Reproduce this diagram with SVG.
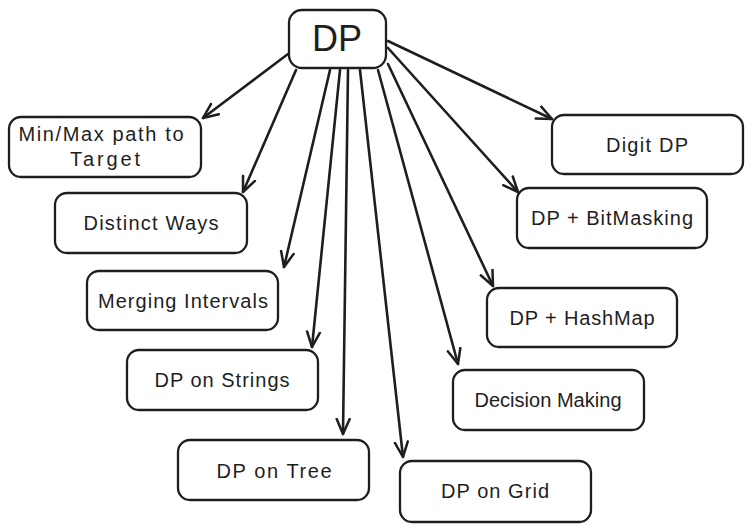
<svg xmlns="http://www.w3.org/2000/svg" width="752" height="531" viewBox="0 0 752 531">
<style>
.box{fill:#fff;stroke:#1e1e1e;stroke-width:2.3}
.t{font-family:"Liberation Sans",Arial,sans-serif;font-size:20px;fill:#1e1e1e;text-anchor:middle}
.big{font-size:36px}
.c path{fill:none;stroke:#1e1e1e;stroke-width:2.6;stroke-linecap:round;marker-end:url(#ah)}
</style>
<defs>
<marker id="ah" viewBox="-16 -9 18 18" refX="0" refY="0" markerWidth="18" markerHeight="18" markerUnits="userSpaceOnUse" orient="auto">
<path d="M-15,-6.5 L0,0 L-15,6.5" fill="none" stroke="#1e1e1e" stroke-width="2.5" stroke-linecap="round" stroke-linejoin="round"/>
</marker>
</defs>
<rect width="752" height="531" fill="#fff"/>
<g id="connectors" class="c">
<path d="M288,54 L203,118"/>
<path d="M296,70 L243,192"/>
<path d="M330,70 L284,267"/>
<path d="M340,70 L312,347"/>
<path d="M348,70 L343,434"/>
<path d="M360,70 L403,457"/>
<path d="M378,70 L458,364"/>
<path d="M388,64 L493,286"/>
<path d="M388,48 L518,192"/>
<path d="M388,41 L552,119"/>
</g>
<g id="n-dp"><rect class="box" x="289" y="10" width="97" height="58" rx="13"/><text class="t big" x="337" y="51" textLength="50">DP</text></g>
<g id="n-minmax"><rect class="box" x="9" y="117" width="192" height="60" rx="12"/><text class="t" x="101" y="141" textLength="165">Min/Max path to</text><text class="t" x="105" y="166" textLength="70">Target</text></g>
<g id="n-distinct"><rect class="box" x="55" y="193" width="192" height="60" rx="12"/><text class="t" x="151" y="230" textLength="135">Distinct Ways</text></g>
<g id="n-merging"><rect class="box" x="87" y="271" width="191" height="59" rx="12"/><text class="t" x="183" y="308" textLength="170">Merging Intervals</text></g>
<g id="n-strings"><rect class="box" x="127" y="350" width="191" height="60" rx="12"/><text class="t" x="222" y="387" textLength="135">DP on Strings</text></g>
<g id="n-tree"><rect class="box" x="178" y="440" width="191" height="60" rx="12"/><text class="t" x="274" y="478" textLength="115">DP on Tree</text></g>
<g id="n-digit"><rect class="box" x="552" y="115" width="191" height="59" rx="12"/><text class="t" x="647" y="152" textLength="82">Digit DP</text></g>
<g id="n-bitmask"><rect class="box" x="517" y="188" width="190" height="60" rx="12"/><text class="t" x="612" y="225" textLength="162">DP + BitMasking</text></g>
<g id="n-hashmap"><rect class="box" x="487" y="288" width="190" height="59" rx="12"/><text class="t" x="582" y="325" textLength="145">DP + HashMap</text></g>
<g id="n-decision"><rect class="box" x="453" y="370" width="191" height="60" rx="12"/><text class="t" x="548" y="407" textLength="147">Decision Making</text></g>
<g id="n-grid"><rect class="box" x="400" y="461" width="191" height="61" rx="12"/><text class="t" x="495" y="498" textLength="108">DP on Grid</text></g>
</svg>
